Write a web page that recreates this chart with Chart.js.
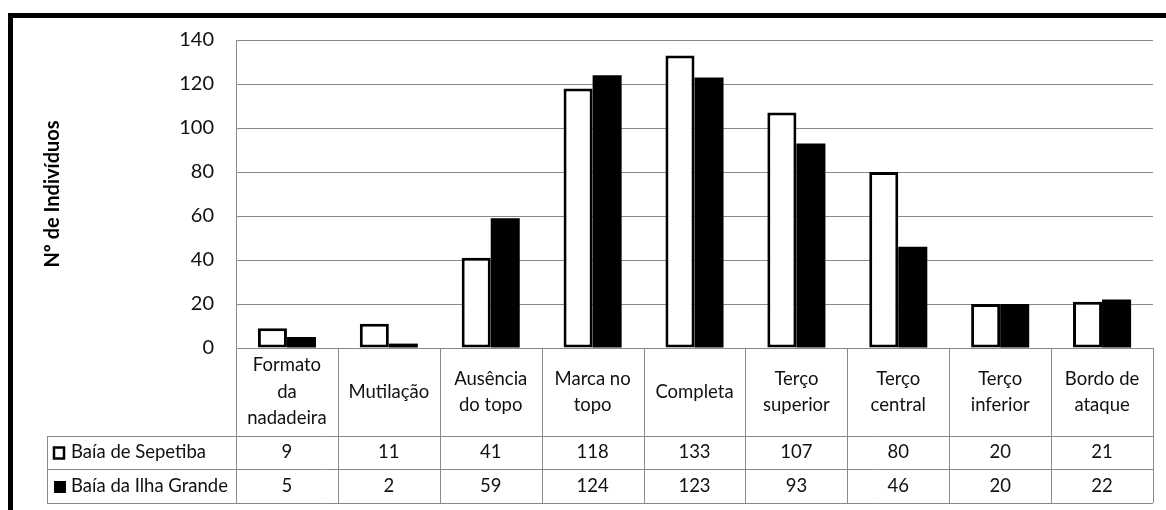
<!DOCTYPE html>
<html>
<head>
<meta charset="utf-8">
<script src="https://cdn.jsdelivr.net/npm/chart.js@4.4.1/dist/chart.umd.min.js"></script>
<style>
  body { margin: 0; background: #fff; }
  canvas { display: block; }
</style>
</head>
<body>
<canvas id="myChart" width="1166" height="510"></canvas>
<script>
// dados do gráfico
var categorias = [
    ['Formato', 'da', 'nadadeira'],
    ['Mutilação'],
    ['Ausência', 'do topo'],
    ['Marca no', 'topo'],
    ['Completa'],
    ['Terço', 'superior'],
    ['Terço', 'central'],
    ['Terço', 'inferior'],
    ['Bordo de', 'ataque']
];
var sepetiba = [9, 11, 41, 118, 133, 107, 80, 20, 21];
var ilhaGrande = [5, 2, 59, 124, 123, 93, 46, 20, 22];
var serieNomes = ['Baía de Sepetiba', 'Baía da Ilha Grande'];
var yTicks = [0, 20, 40, 60, 80, 100, 120, 140];

var fonte = 'Lato, "Open Sans", sans-serif';
var corGrade = '#8a8a8a';

// tabela de dados embaixo do gráfico + moldura preta
var tabelaPlugin = {
    id: 'tabela',
    beforeDraw: function (chart) {
        var ctx = chart.ctx;
        ctx.save();
        ctx.fillStyle = '#000';
        ctx.fillRect(8, 13, 1166 - 8, 5);
        ctx.fillRect(8, 13, 5, 510 - 13);
        ctx.restore();
    },
    afterDraw: function (chart) {
        var ctx = chart.ctx;
        var area = chart.chartArea;
        var x = chart.scales.x;
        var n = categorias.length;
        var w = (area.right - area.left) / n;
        var y0 = area.bottom;
        var yCab = y0 + 88;
        var yL1 = yCab + 33;
        var yL2 = yL1 + 34;
        var esq = 47;

        ctx.save();
        ctx.strokeStyle = corGrade;
        ctx.lineWidth = 1;

        // linhas verticais
        for (var i = 0; i <= n; i++) {
            var xx = Math.round(area.left + i * w) + 0.5;
            ctx.beginPath();
            ctx.moveTo(xx, y0);
            ctx.lineTo(xx, yL2);
            ctx.stroke();
        }
        ctx.beginPath();
        ctx.moveTo(esq + 0.5, yCab);
        ctx.lineTo(esq + 0.5, yL2);
        ctx.stroke();

        // linhas horizontais
        [yCab, yL1, yL2].forEach(function (yy) {
            ctx.beginPath();
            ctx.moveTo(esq, Math.round(yy) + 0.5);
            ctx.lineTo(area.right, Math.round(yy) + 0.5);
            ctx.stroke();
        });

        ctx.fillStyle = '#111';
        ctx.font = '18.5px ' + fonte;
        ctx.textAlign = 'center';
        ctx.textBaseline = 'middle';

        // nomes das categorias
        var lh = 26.5;
        for (var i = 0; i < n; i++) {
            var cx = x.getPixelForValue(i);
            var linhas = categorias[i];
            var cy = (y0 + yCab) / 2 - (linhas.length - 1) * lh / 2;
            linhas.forEach(function (t, k) {
                ctx.fillText(t, cx, cy + k * lh);
            });
        }

        // valores
        var series = [sepetiba, ilhaGrande];
        var linhasY = [(yCab + yL1) / 2, (yL1 + yL2) / 2];
        for (var s = 0; s < 2; s++) {
            for (var i = 0; i < n; i++) {
                ctx.fillText(String(series[s][i]), x.getPixelForValue(i), linhasY[s]);
            }
        }

        // legenda na tabela
        ctx.textAlign = 'left';
        for (var s = 0; s < 2; s++) {
            var ly = linhasY[s];
            if (s == 0) {
                ctx.fillStyle = '#fff';
                ctx.fillRect(54, ly - 5, 10, 11);
                ctx.strokeStyle = '#000';
                ctx.lineWidth = 2.5;
                ctx.strokeRect(54, ly - 5, 10, 11);
            } else {
                ctx.fillStyle = '#000';
                ctx.fillRect(54, ly - 5, 12, 12);
            }
            ctx.fillStyle = '#111';
            ctx.fillText(serieNomes[s], 71, ly);
        }
        ctx.restore();
    }
};

var ctx = document.getElementById('myChart').getContext('2d');

var data = {
    labels: categorias.map(function (c) { return c.join(' '); }),
    datasets: [{
        label: serieNomes[0],
        data: sepetiba,
        backgroundColor: '#fff',
        borderColor: '#000',
        borderWidth: 3,
        borderSkipped: false
    }, {
        label: serieNomes[1],
        data: ilhaGrande,
        backgroundColor: '#000',
        borderColor: '#000',
        borderWidth: 0,
        borderSkipped: false
    }]
};

var options = {
    responsive: false,
    animation: false,
    layout: {
        padding: { left: 37, right: 13, top: 40, bottom: 162 }
    },
    plugins: {
        legend: { display: false },
        tooltip: { enabled: false }
    },
    datasets: {
        bar: { categoryPercentage: 0.57, barPercentage: 1 }
    },
    scales: {
        x: { display: false },
        y: {
            min: 0,
            max: 140,
            afterFit: function (scale) { scale.width = 236 - 37; },
            afterBuildTicks: function (scale) {
                scale.ticks = yTicks.map(function (v) { return { value: v }; });
            },
            ticks: {
                padding: 22,
                color: '#111',
                font: { family: fonte, size: 20 }
            },
            grid: { color: corGrade, drawTicks: false },
            border: { color: corGrade },
            title: {
                display: true,
                text: 'Nº de Indivíduos',
                color: '#000',
                font: { family: fonte, size: 20, weight: 'bold' }
            }
        }
    }
};

var myChart = new Chart(ctx, {
    type: 'bar',
    data: data,
    options: options,
    plugins: [tabelaPlugin]
});
</script>
</body>
</html>
